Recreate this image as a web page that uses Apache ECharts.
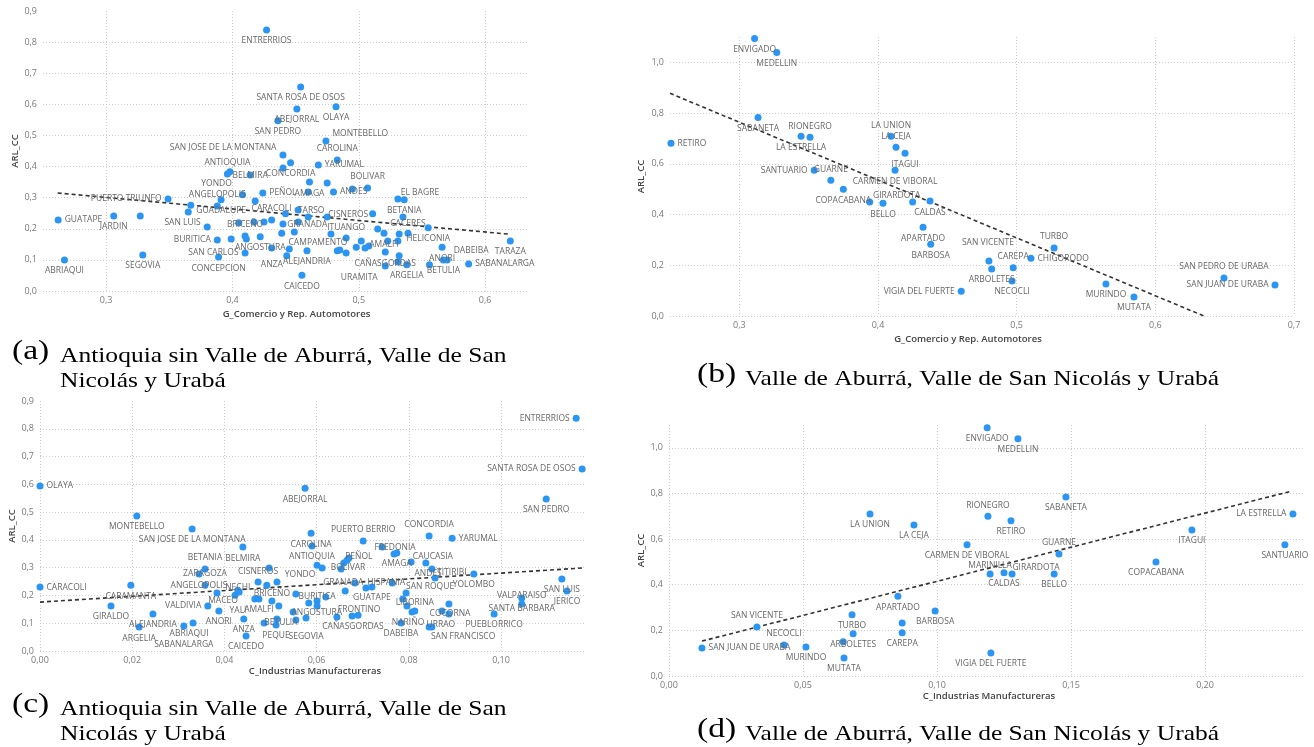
<!DOCTYPE html>
<html><head><meta charset="utf-8">
<script src="https://cdn.jsdelivr.net/npm/echarts@6/dist/echarts.min.js"></script>
<style>html,body{margin:0;padding:0;background:#fff}#c{width:1314px;height:747px}</style>
</head><body><div id="c"></div>
<script>
// ---------- Panel (a): G_Comercio vs ARL_CC (Antioquia sin Valle de Aburrá, San Nicolás, Urabá)
const A_names = ['ENTRERRIOS','SANTA ROSA DE OSOS','ABEJORRAL','OLAYA','SAN PEDRO','MONTEBELLO','SAN JOSE DE LA MONTANA','CAROLINA','YARUMAL','CONCORDIA','','ANTIOQUIA','','BELMIRA','AMAGA','','','ANDES','','BOLIVAR','PEÑOL','','YONDO','EL BAGRE','BETANIA','TARSO','','GRANADA','CISNEROS','','CACERES','HELICONIA','','','CARACOLI','','','','','BRICEÑO','','ANGOSTURA','CAMPAMENTO','ITUANGO','','','','','','AMALFI','','','','','CAÑASGORDAS','','ANORI','','','','ALEJANDRIA','','ANZA','','SAN CARLOS','','ARGELIA','URAMITA','','BETULIA','DABEIBA','SABANALARGA','TARAZA','CAICEDO','ABRIAQUI','GUATAPE','JARDIN','','SEGOVIA','PUERTO TRIUNFO','','','GUADALUPE','ANGELOPOLIS','SAN LUIS','BURITICA','','CONCEPCION',''];
const A_x = [0.427,0.454,0.451,0.482,0.436,0.474,0.440,0.483,0.468,0.446,0.440,0.396,0.398,0.414,0.461,0.475,0.460,0.480,0.495,0.507,0.424,0.418,0.408,0.531,0.536,0.452,0.442,0.460,0.475,0.511,0.535,0.555,0.417,0.425,0.431,0.440,0.452,0.449,0.439,0.410,0.411,0.422,0.478,0.490,0.502,0.498,0.505,0.508,0.515,0.520,0.523,0.531,0.532,0.539,0.521,0.532,0.566,0.485,0.483,0.490,0.459,0.445,0.443,0.431,0.410,0.531,0.538,0.521,0.556,0.567,0.570,0.587,0.620,0.455,0.267,0.262,0.306,0.327,0.329,0.349,0.367,0.365,0.391,0.388,0.380,0.388,0.399,0.389,0.405];
const A_y = [0.839,0.656,0.585,0.592,0.547,0.482,0.437,0.421,0.405,0.412,0.395,0.376,0.383,0.373,0.350,0.347,0.318,0.318,0.328,0.331,0.315,0.289,0.309,0.296,0.293,0.260,0.248,0.238,0.238,0.248,0.238,0.203,0.222,0.222,0.228,0.215,0.222,0.190,0.186,0.177,0.167,0.174,0.183,0.170,0.161,0.141,0.138,0.145,0.199,0.186,0.161,0.161,0.183,0.186,0.125,0.113,0.141,0.132,0.129,0.122,0.129,0.135,0.113,0.138,0.122,0.093,0.084,0.080,0.084,0.100,0.100,0.087,0.161,0.051,0.100,0.228,0.241,0.241,0.116,0.296,0.276,0.254,0.293,0.273,0.206,0.164,0.167,0.109,0.219];
const A_trend = [[0.2616,0.315],[0.618,0.183]];

// ---------- Panel (b): G_Comercio vs ARL_CC (Valle de Aburrá, San Nicolás, Urabá)
const B_names = ['ENVIGADO','MEDELLIN','SABANETA','RETIRO','LA ESTRELLA','RIONEGRO','SANTUARIO','GUARNE','COPACABANA','MARINILLA','BELLO','LA UNION','LA CEJA','ITAGUI','CARMEN DE VIBORAL','GIRARDOTA','CALDAS','APARTADO','BARBOSA','VIGIA DEL FUERTE','SAN VICENTE','ARBOLETES','CAREPA','NECOCLI','CHIGORODO','TURBO','MURINDO','MUTATA','SAN PEDRO DE URABA','SAN JUAN DE URABA'];
const B_x = [0.311,0.327,0.3135,0.2507,0.3445,0.351,0.354,0.366,0.375,0.394,0.4036,0.4094,0.413,0.4195,0.4123,0.425,0.4375,0.4325,0.438,0.460,0.480,0.482,0.4975,0.4967,0.5103,0.527,0.5644,0.5846,0.6495,0.6863];
const B_y = [1.094,1.039,0.783,0.681,0.709,0.705,0.575,0.535,0.500,0.449,0.445,0.709,0.665,0.642,0.575,0.449,0.453,0.350,0.283,0.098,0.217,0.185,0.190,0.138,0.228,0.268,0.126,0.075,0.150,0.122];
const B_trend = [[0.25,0.878],[0.635,0.0]];

// ---------- Panel (c): C_Industrias Manufactureras vs ARL_CC (Antioquia sin ...)
const C_names = ['OLAYA','CARACOLI','MONTEBELLO','SAN JOSE DE LA MONTANA','BELMIRA','BETANIA','ZARAGOZA','ANGELOPOLIS','CARAMANTA','GIRALDO','ALEJANDRIA','ARGELIA','ABRIAQUI','SABANALARGA','VALDIVIA','ANORI','MACEO','YALI','NECHI','','ANZA','AMALFI','','CAICEDO','CISNEROS','','','BRICEÑO','','BETULIA','PEQUE','','','','','','SEGOVIA','ABEJORRAL','CAROLINA','ANTIOQUIA','YONDO','','BOLIVAR','','','PEÑOL','PUERTO BERRIO','FREDONIA','','AMAGA','ANDES','CAUCASIA','CONCORDIA','YARUMAL','TITIRIBI','SAN ROQUE','YOLOMBO','HISPANIA','GRANADA','','GUATAPE','','ANGOSTURA','BURITICA','','','CAÑASGORDAS','FRONTINO','','','LIBORINA','','NARIÑO','','DABEIBA','SAN FRANCISCO','URRAO','COCORNA','','','PUEBLORRICO','VALPARAISO','SANTA BARBARA','SAN LUIS','JERICO','SAN PEDRO','SANTA ROSA DE OSOS','ENTRERRIOS'];
const C_x = [0,0,0.0210,0.0330,0.0440,0.0358,0.0345,0.0358,0.0197,0.0154,0.0245,0.0215,0.0332,0.0312,0.0364,0.0388,0.0384,0.0423,0.0429,0.0432,0.0442,0.0475,0.0466,0.0447,0.0473,0.0497,0.0492,0.0514,0.0486,0.0514,0.0512,0.0503,0.0518,0.0555,0.0549,0.0555,0.0577,0.0575,0.0588,0.0590,0.0601,0.0612,0.0653,0.0659,0.0666,0.0670,0.0701,0.0742,0.0768,0.0774,0.0805,0.0837,0.0844,0.0894,0.0850,0.0857,0.0941,0.0764,0.0662,0.0683,0.0707,0.0720,0.0583,0.0601,0.0601,0.0620,0.0644,0.0677,0.0690,0.0794,0.0787,0.0796,0.0807,0.0813,0.0783,0.0844,0.0850,0.0872,0.0887,0.0887,0.0985,0.1045,0.1045,0.1132,0.1143,0.1098,0.1176,0.1163];
const C_y = [0.594,0.230,0.486,0.439,0.374,0.295,0.277,0.237,0.237,0.162,0.133,0.086,0.101,0.090,0.162,0.144,0.209,0.201,0.219,0.212,0.115,0.187,0.187,0.054,0.248,0.299,0.237,0.248,0.101,0.115,0.094,0.180,0.162,0.205,0.140,0.112,0.119,0.586,0.424,0.378,0.309,0.299,0.295,0.317,0.327,0.335,0.396,0.374,0.349,0.353,0.320,0.317,0.414,0.406,0.295,0.263,0.277,0.245,0.216,0.245,0.227,0.230,0.173,0.180,0.162,0.194,0.122,0.126,0.129,0.209,0.187,0.162,0.140,0.144,0.101,0.086,0.086,0.144,0.169,0.133,0.133,0.191,0.169,0.259,0.216,0.547,0.655,0.838];
const C_trend = [[0,0.176],[0.1178,0.299]];

// ---------- Panel (d): C_Industrias Manufactureras vs ARL_CC (Valle de Aburrá, ...)
const D_names = ['ENVIGADO','MEDELLIN','LA UNION','LA CEJA','CARMEN DE VIBORAL','RIONEGRO','RETIRO','SABANETA','LA ESTRELLA','ITAGUI','SANTUARIO','COPACABANA','GUARNE','MARINILLA','CALDAS','GIRARDOTA','BELLO','VIGIA DEL FUERTE','APARTADO','BARBOSA','TURBO','CAREPA','CHIGORODO','ARBOLETES','SAN PEDRO DE URABA','MUTATA','MURINDO','NECOCLI','SAN VICENTE','SAN JUAN DE URABA'];
const D_x = [0.1187,0.1302,0.075,0.0914,0.1112,0.119,0.1276,0.1481,0.2328,0.1951,0.2298,0.1817,0.1455,0.1198,0.125,0.128,0.1437,0.1201,0.0854,0.0993,0.0683,0.087,0.087,0.0687,0.065,0.0653,0.0511,0.0429,0.0328,0.0123];
const D_y = [1.088,1.040,0.710,0.662,0.575,0.700,0.680,0.785,0.710,0.640,0.575,0.500,0.535,0.447,0.452,0.447,0.447,0.101,0.350,0.285,0.268,0.190,0.232,0.185,0.150,0.079,0.127,0.136,0.215,0.123];
const D_trend = [[0.0123,0.153],[0.2325,0.811]];

// ---------- text
const X_NAME_AB = 'G_Comercio y Rep. Automotores';
const X_NAME_CD = 'C_Industrias Manufactureras';
const Y_NAME = 'ARL_CC';
const CAP_A = ['(a)', 'Antioquia sin Valle de Aburrá, Valle de San\nNicolás y Urabá'];
const CAP_B = ['(b)', 'Valle de Aburrá, Valle de San Nicolás y Urabá'];
const CAP_C = ['(c)', 'Antioquia sin Valle de Aburrá, Valle de San\nNicolás y Urabá'];
const CAP_D = ['(d)', 'Valle de Aburrá, Valle de San Nicolás y Urabá'];

// ---------- label placement (style only)
const A_lab = {'MONTEBELLO':['r',0,-7],'SAN JOSE DE LA MONTANA':['l',0,-7],'CAROLINA':'t','YARUMAL':'r','ANTIOQUIA':'t','BELMIRA':['c',0,1],'ANDES':'r','BOLIVAR':'t','PEÑOL':'r','YONDO':['c',-26,-11],'EL BAGRE':['c',22,-6],'CACERES':['c',5,7],'GRANADA':['c',-1,8],'CISNEROS':['c',21,-2],'CARACOLI':'t','TARSO':['c',13,0],'ITUANGO':'t','CAMPAMENTO':['c',-13,9],'ANZA':['c',-15,9],'BRICEÑO':'t','SAN CARLOS':'l','BURITICA':'l','SAN LUIS':['l',0,-4],'ANGELOPOLIS':'t','PUERTO TRIUNFO':'l','GUATAPE':'r','URAMITA':['c',-26,11],'DABEIBA':['c',24,-9],'SABANALARGA':'r'};
const B_lab = {'RETIRO':'r','RIONEGRO':'t','SANTUARIO':'l','GUARNE':'t','MARINILLA':'none','LA UNION':'t','LA CEJA':'t','GIRARDOTA':['c',-16,-7],'VIGIA DEL FUERTE':'l','SAN VICENTE':['c',-1,-18],'CAREPA':'t','CHIGORODO':'r','TURBO':'t','SAN PEDRO DE URABA':'t','SAN JUAN DE URABA':'l'};
const C_lab = {'OLAYA':'r','CARACOLI':'r','BETANIA':'t','ZARAGOZA':['c',6,0],'ANGELOPOLIS':['c',-6,0],'ABRIAQUI':['c',-4,11],'SABANALARGA':['c',0,19],'VALDIVIA':'l','MACEO':['c',6,8],'YALI':['c',3,15],'NECHI':['c',0,-3],'CISNEROS':'t','BRICEÑO':['c',-5,11],'BETULIA':['c',4,4],'YONDO':['c',-17,9],'SEGOVIA':['c',0,19],'BOLIVAR':['c',7,-1],'PEÑOL':['c',10,-1],'PUERTO BERRIO':'t','FREDONIA':['c',13,0],'ANDES':['c',17,11],'CAUCASIA':['c',7,-6],'CONCORDIA':'t','YARUMAL':'r','TITIRIBI':['c',20,4],'SAN ROQUE':['c',-5,9],'HISPANIA':['c',-6,0],'GRANADA':['c',-2,-8],'GUATAPE':['c',6,10],'ANGOSTURA':['c',8,10],'BURITICA':['c',0,-4],'CAÑASGORDAS':['c',16,9],'FRONTINO':['c',7,-6],'LIBORINA':['c',12,4],'NARIÑO':['c',-4,10],'URRAO':['c',9,-3],'SAN FRANCISCO':['c',34,9],'COCORNA':['c',8,3],'VALPARAISO':['c',0,-2],'SANTA BARBARA':['c',0,5],'SANTA ROSA DE OSOS':'l','ENTRERRIOS':'l'};
const D_lab = {'RIONEGRO':'t','LA ESTRELLA':'l','GUARNE':'t','MARINILLA':['c',0,-8],'GIRARDOTA':['c',24,-6],'CHIGORODO':'none','SAN PEDRO DE URABA':'none','NECOCLI':'t','SAN VICENTE':'t','SAN JUAN DE URABA':'r'};

const BLUE = '#2b95f3', LABEL = '#686868', GRID = '#cdcdcd', TICK = '#7a7a7a', UI = 'Open Sans';

function labelFor(s) {
  if (typeof s === 'string') s = [s, 0, 0];
  const pos = {b:'bottom', t:'top', r:'right', l:'left', c:'inside'}[s[0]];
  return {show:true, position:pos, offset:[s[1], s[2]], distance:3, color:LABEL};
}
function scatter(i, names, xs, ys, specs) {
  const data = names.map((n, k) => {
    const s = specs[n] || 'b';
    return {name:n, value:[xs[k], ys[k]], label: (!n || s === 'none') ? {show:false} : labelFor(s)};
  });
  return {type:'scatter', xAxisIndex:i, yAxisIndex:i, data, symbolSize:7, z:3,
    itemStyle:{color:BLUE, opacity:1},
    label:{show:true, formatter:'{b}', color:LABEL, fontSize:8.5, fontFamily:UI}};
}
function trend(i, pts) {
  return {type:'line', xAxisIndex:i, yAxisIndex:i, data:pts, symbol:'none', silent:true, z:2,
    lineStyle:{color:'#333', width:1.6, type:[4,3]}};
}
function fmt(dec, step) {
  return v => {
    const k = v / step;
    if (Math.abs(k - Math.round(k)) > 1e-6) return '';
    return v.toFixed(dec).replace('.', ',');
  };
}
function nameStyle(shift) {
  return {color:'#444', fontSize:9.5, fontFamily:UI, fontWeight:600,
    padding: shift >= 0 ? [0,0,0,2*shift] : [0,-2*shift,0,0]};
}
function xAxis(i, min, max, interval, dec, step, name, gap, cycle, shift) {
  return {type:'value', gridIndex:i, min, max, interval, name, nameLocation:'middle', nameGap:gap,
    nameTextStyle:nameStyle(shift),
    axisLine:{show:false}, axisTick:{show:false},
    axisLabel:{formatter:fmt(dec, step), color:TICK, fontSize:9, fontFamily:UI, margin:5},
    splitLine:{show:true, showMaxLine:!!cycle, lineStyle:{color: cycle ? ['rgba(0,0,0,0)', GRID] : GRID, type:[1,2], width:1}}};
}
function yAxis(i, max, interval, gap) {
  return {type:'value', gridIndex:i, min:0, max, interval, name:Y_NAME, nameLocation:'middle', nameGap:gap,
    nameTextStyle:nameStyle(0),
    axisLine:{show:false}, axisTick:{show:false},
    axisLabel:{formatter:fmt(1, interval), color:TICK, fontSize:9, fontFamily:UI, margin:6},
    splitLine:{show:true, showMaxLine:false, lineStyle:{color:GRID, type:[1,2], width:1}}};
}
function caption(x, y, cap) {
  return [
    {type:'text', x:x, y:y - 6, scaleX:1.2, style:{text:cap[0], font:'28px "Liberation Serif"', fill:'#000', verticalAlign:'top'}},
    {type:'text', x:x + 48, y:y, scaleX:1.16, style:{text:cap[1], font:'22px "Liberation Serif"', fill:'#000', lineHeight:25, verticalAlign:'top'}}
  ];
}

const chart = echarts.init(document.getElementById('c'), null, {renderer:'canvas'});
chart.setOption({
  animation:false,
  backgroundColor:'#fff',
  grid:[
    {left:43, top:11, width:485, height:280},
    {left:670, top:37, width:624, height:279},
    {left:40, top:401, width:544, height:250},
    {left:669, top:425, width:636, height:251}
  ],
  xAxis:[
    xAxis(0, 0.25, 0.634, 0.05, 1, 0.1, X_NAME_AB, 18, true, 11),
    xAxis(1, 0.25, 0.70, 0.05, 1, 0.1, X_NAME_AB, 18, true, -14),
    xAxis(2, 0, 0.118, 0.02, 2, 0.02, X_NAME_CD, 15, false, 3),
    xAxis(3, 0, 0.2373, 0.05, 2, 0.05, X_NAME_CD, 12, false, 2)
  ],
  yAxis:[
    yAxis(0, 0.9, 0.1, 21),
    yAxis(1, 1.1, 0.2, 24),
    yAxis(2, 0.9, 0.1, 20),
    yAxis(3, 1.1, 0.2, 21)
  ],
  series:[
    trend(0, A_trend), scatter(0, A_names, A_x, A_y, A_lab),
    trend(1, B_trend), scatter(1, B_names, B_x, B_y, B_lab),
    trend(2, C_trend), scatter(2, C_names, C_x, C_y, C_lab),
    trend(3, D_trend), scatter(3, D_names, D_x, D_y, D_lab)
  ],
  graphic:[].concat(caption(12, 344, CAP_A), caption(697, 367, CAP_B), caption(12, 697, CAP_C), caption(697, 722, CAP_D))
});
</script>
</body></html>
